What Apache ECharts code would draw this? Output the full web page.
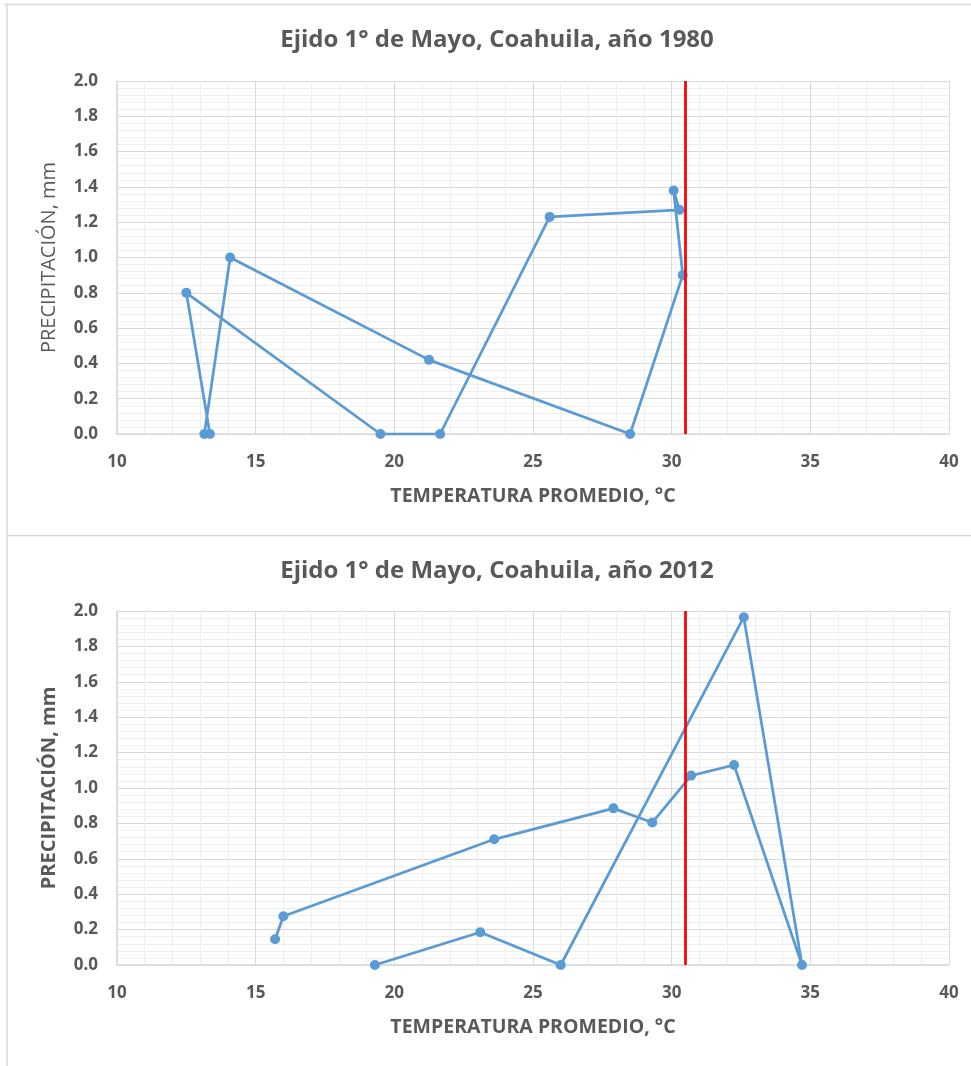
<!DOCTYPE html>
<html>
<head>
<meta charset="utf-8">
<script src="https://cdn.jsdelivr.net/npm/echarts@6/dist/echarts.min.js"></script>
<style>
html,body{margin:0;padding:0;background:#fff;}
#c{width:971px;height:1066px;}
</style>
</head>
<body>
<div id="c"></div>
<script>
// ---- data ----
const months = ['Ene','Feb','Mar','Abr','May','Jun','Jul','Ago','Sep','Oct','Nov','Dic'];
const temp1980 = [13.35, 12.5, 19.5, 21.65, 25.6, 30.28, 30.07, 30.4, 28.5, 21.25, 14.08, 13.15];
const prec1980 = [0, 0.80, 0, 0, 1.23, 1.27, 1.38, 0.90, 0, 0.42, 1.00, 0];
const temp2012 = [15.7, 16.0, 23.6, 27.9, 29.3, 30.7, 32.25, 34.7, 32.6, 26.0, 23.1, 19.3];
const prec2012 = [0.145, 0.275, 0.71, 0.885, 0.805, 1.07, 1.13, 0, 1.965, 0, 0.185, 0];
const xTicks = [10, 15, 20, 25, 30, 35, 40];
const yTicks = [0, 0.2, 0.4, 0.6, 0.8, 1.0, 1.2, 1.4, 1.6, 1.8, 2.0];
const limitTemp = 30.5;
const titles = ['Ejido 1° de Mayo, Coahuila, año 1980', 'Ejido 1° de Mayo, Coahuila, año 2012'];
const xName = 'TEMPERATURA PROMEDIO, °C';
const yName = 'PRECIPITACIÓN, mm';

// ---- chart ----
const gray = '#595959';
const font = '"Open Sans", "Liberation Sans", sans-serif';
const pairs = (xs, ys) => xs.map((x, i) => [x, ys[i]]);

function xAxis(gi) {
  return {
    type: 'value', gridIndex: gi,
    min: xTicks[0], max: xTicks[xTicks.length - 1], interval: xTicks[1] - xTicks[0],
    name: xName, nameLocation: 'middle', nameGap: 52,
    nameTextStyle: {color: gray, fontSize: 19.5, fontWeight: 'bold', fontFamily: font},
    axisLine: {show: true, lineStyle: {color: '#d9d9d9', width: 1.5}},
    axisTick: {show: false},
    axisLabel: {color: gray, fontSize: 17, fontWeight: 'bold', fontFamily: font, margin: 20},
    splitLine: {show: true, lineStyle: {color: '#d9d9d9', width: 1}},
    minorTick: {show: false, splitNumber: 5},
    minorSplitLine: {show: true, lineStyle: {color: '#efefef', width: 1}}
  };
}
function yAxis(gi, bold) {
  return {
    type: 'value', gridIndex: gi,
    min: yTicks[0], max: yTicks[yTicks.length - 1], interval: yTicks[1] - yTicks[0],
    name: yName, nameLocation: 'middle', nameGap: 58, nameRotate: 90,
    nameTextStyle: {color: gray, fontSize: 20, fontWeight: bold ? 'bold' : 'normal', fontFamily: font},
    axisLine: {show: true, lineStyle: {color: '#d9d9d9', width: 1.5}},
    axisTick: {show: false},
    axisLabel: {color: gray, fontSize: 17, fontWeight: 'bold', fontFamily: font, margin: 19,
      formatter: v => v.toFixed(1)},
    splitLine: {show: true, lineStyle: {color: '#d9d9d9', width: 1}},
    minorTick: {show: false, splitNumber: 5},
    minorSplitLine: {show: true, lineStyle: {color: '#efefef', width: 1}}
  };
}
function series(gi, xs, ys) {
  return {
    type: 'line', xAxisIndex: gi, yAxisIndex: gi,
    data: pairs(xs, ys),
    symbol: 'circle', symbolSize: 10, showSymbol: true,
    lineStyle: {color: '#5b9bd5', width: 2.75},
    itemStyle: {color: '#5b9bd5'},
    animation: false,
    markLine: {
      silent: true, symbol: ['none', 'none'], label: {show: false},
      lineStyle: {color: '#ff0000', width: 2.75, type: 'solid'},
      data: [{xAxis: limitTemp}]
    }
  };
}

const chart = echarts.init(document.getElementById('c'), null, {renderer: 'canvas'});
chart.setOption({
  animation: false,
  backgroundColor: '#fff',
  title: [
    {text: titles[0], left: 492, top: 23, textAlign: 'center',
      textStyle: {color: gray, fontSize: 24, fontWeight: 'bold', fontFamily: font}},
    {text: titles[1], left: 492, top: 554, textAlign: 'center',
      textStyle: {color: gray, fontSize: 24, fontWeight: 'bold', fontFamily: font}}
  ],
  grid: [
    {left: 117, right: 22, top: 81, height: 353},
    {left: 117, right: 22, top: 611, height: 354}
  ],
  xAxis: [xAxis(0), xAxis(1)],
  yAxis: [yAxis(0, false), yAxis(1, true)],
  series: [series(0, temp1980, prec1980), series(1, temp2012, prec2012)],
  graphic: [
    {type: 'line', shape: {x1: 4, y1: 4.5, x2: 971, y2: 4.5}, style: {stroke: '#d9d9d9', lineWidth: 1.5}},
    {type: 'line', shape: {x1: 7, y1: 4, x2: 7, y2: 1066}, style: {stroke: '#d9d9d9', lineWidth: 1.5}},
    {type: 'line', shape: {x1: 7, y1: 535.5, x2: 971, y2: 535.5}, style: {stroke: '#d9d9d9', lineWidth: 1.5}}
  ]
});
</script>
</body>
</html>
